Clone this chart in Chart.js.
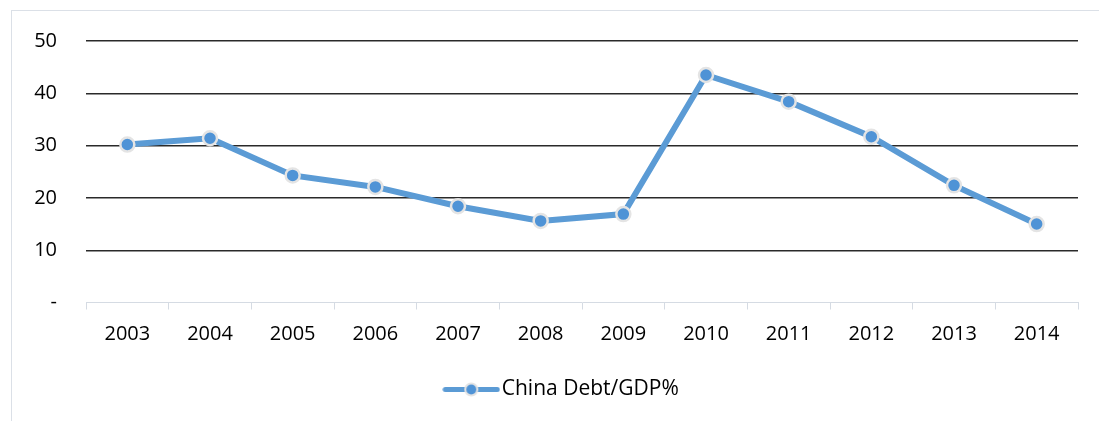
<!DOCTYPE html>
<html>
<head>
<meta charset="utf-8">
<script src="https://cdn.jsdelivr.net/npm/chart.js@4.4.0/dist/chart.umd.min.js"></script>
<style>
  html, body { margin: 0; padding: 0; background: #fff; overflow: hidden; }
  #frame { position: absolute; left: 11px; top: 10px; width: 1200px; height: 500px; border: 1px solid #dbe0e7; box-sizing: border-box; }
  #wrap { position: absolute; left: 0; top: 0; width: 1099px; height: 421px; }
</style>
</head>
<body>
<div id="frame"></div>
<div id="wrap"><canvas id="c" width="1099" height="421"></canvas></div>
<script>
const categories = ['2003','2004','2005','2006','2007','2008','2009','2010','2011','2012','2013','2014'];
const debtToGdp = [30.2, 31.4, 24.3, 22.1, 18.4, 15.6, 16.9, 43.5, 38.4, 31.7, 22.4, 15.0];
const seriesName = 'China Debt/GDP%';
const yTicks = [0, 10, 20, 30, 40, 50];
const yTickLabels = ['-', '10', '20', '30', '40', '50'];

const FONT = '"Open Sans", "Liberation Sans", sans-serif';
const BLUE = '#5B9BD5';

// legend marker: line with a circle in the middle
const legendImg = document.createElement('canvas');
legendImg.width = 58; legendImg.height = 18;
(function(){
  const g = legendImg.getContext('2d');
  g.strokeStyle = BLUE; g.lineWidth = 5; g.lineCap = 'round';
  g.beginPath(); g.moveTo(3, 9.5); g.lineTo(55, 9.5); g.stroke();
  g.beginPath(); g.arc(29, 9.5, 6, 0, Math.PI * 2);
  g.fillStyle = '#4f93d6'; g.fill();
  g.lineWidth = 2; g.strokeStyle = '#e4e4e4'; g.stroke();
})();

// centre the legend under the whole frame rather than the canvas
const legendShift = {
  id: 'legendShift',
  afterLayout(chart) { if (chart.legend) { chart.legend.left = 52; chart.legend.top += 1.5; } }
};

new Chart(document.getElementById('c'), {
  type: 'line',
  data: {
    labels: categories,
    datasets: [{
      label: seriesName,
      data: debtToGdp,
      borderColor: BLUE,
      borderWidth: 6,
      tension: 0,
      pointRadius: 7,
      pointHoverRadius: 7,
      pointBackgroundColor: '#4f93d6',
      pointBorderColor: '#e4e4e4',
      pointBorderWidth: 2.5
    }]
  },
  plugins: [legendShift],
  options: {
    responsive: false,
    animation: false,
    events: [],
    layout: { padding: { left: 0, right: 21, top: 35, bottom: 13 } },
    plugins: {
      tooltip: { enabled: false },
      legend: {
        position: 'bottom',
        labels: {
          usePointStyle: true,
          pointStyle: legendImg,
          pointStyleWidth: 40,
          padding: 10,
          color: '#000',
          font: { family: FONT, size: 21 }
        }
      }
    },
    scales: {
      x: {
        offset: true,
        afterFit: s => { s.height = 64.5; },
        grid: { offset: true, drawOnChartArea: false, drawTicks: true, tickLength: 7, color: '#d5dbe3', lineWidth: 1 },
        border: { display: true, color: '#d5dbe3', width: 1 },
        ticks: { color: '#000', padding: 13, maxRotation: 0, font: { family: FONT, size: 20 } }
      },
      y: {
        min: 0, max: 50,
        afterFit: s => { s.width = 86; },
        afterBuildTicks: s => { s.ticks = yTicks.map(v => ({ value: v })); },
        grid: {
          drawTicks: false,
          color: c => (c.tick && c.tick.value === 0) ? 'rgba(0,0,0,0)' : '#2a2a2a',
          lineWidth: 1.4
        },
        border: { display: false },
        ticks: {
          padding: 29,
          color: '#000',
          font: { family: FONT, size: 20 },
          callback: (v) => { const i = yTicks.indexOf(v); return i >= 0 ? yTickLabels[i] : ''; }
        }
      }
    }
  }
});
</script>
</body>
</html>
